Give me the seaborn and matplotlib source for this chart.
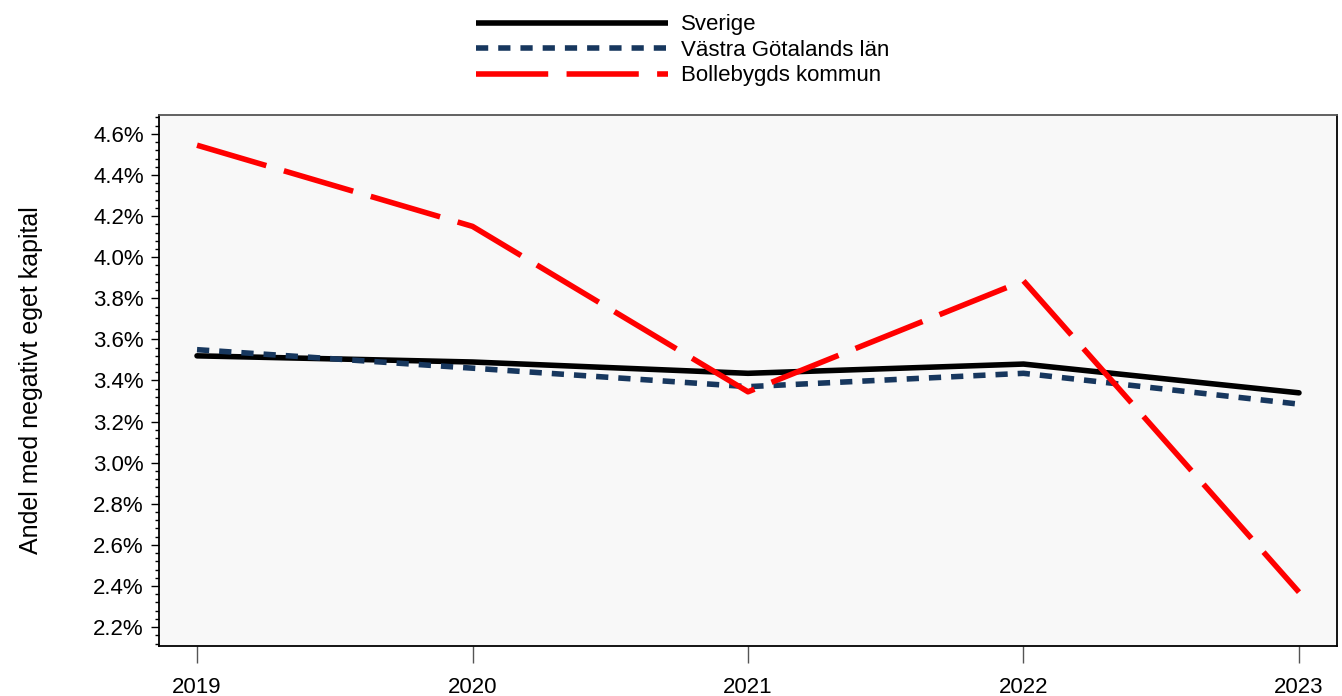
import matplotlib
matplotlib.use("Agg")
import matplotlib.pyplot as plt
import matplotlib.ticker as mticker
import pandas as pd
import seaborn as sns

years = [2019, 2020, 2021, 2022, 2023]
sverige = [3.52, 3.49, 3.435, 3.48, 3.34]
vastra_gotaland = [3.55, 3.46, 3.37, 3.435, 3.285]
bollebygd = [4.545, 4.15, 3.345, 3.885, 2.37]
series_names = ["Sverige", "Västra Götalands län", "Bollebygds kommun"]

df = pd.DataFrame({
    "year": years * 3,
    "value": sverige + vastra_gotaland + bollebygd,
    "series": [s for s in series_names for _ in years],
})

sns.set_style("white")
plt.rcParams["font.family"] = ["Liberation Sans", "DejaVu Sans"]
plt.rcParams["text.color"] = "black"
plt.rcParams["axes.labelcolor"] = "black"
plt.rcParams["xtick.color"] = "black"
plt.rcParams["ytick.color"] = "black"

fig = plt.figure(figsize=(13.42, 6.96), dpi=100)
ax = fig.add_axes([159 / 1342, 1 - 646 / 696, (1337 - 159) / 1342, (646 - 115) / 696])
ax.set_facecolor("#f8f8f8")

palette = {"Sverige": "black", "Västra Götalands län": "#17375e", "Bollebygds kommun": "#ff0000"}
dashes = {"Sverige": "", "Västra Götalands län": (2.2, 1.8), "Bollebygds kommun": (13.0, 3.3)}
lw = 4.0

sns.lineplot(
    data=df, x="year", y="value", hue="series", style="series",
    hue_order=series_names, style_order=series_names,
    palette=palette, dashes=dashes, linewidth=lw, ax=ax, legend=False,
)
for line in ax.get_lines():
    line.set_dash_capstyle("butt")
    line.set_solid_capstyle("round")

handles = []
for n in series_names:
    h = plt.Line2D([], [], color=palette[n], linewidth=lw, solid_capstyle="butt", dash_capstyle="butt")
    if dashes[n]:
        h.set_dashes(dashes[n])
    handles.append(h)
fig.legend(
    handles, series_names, loc="upper center", bbox_to_anchor=(0.5086, 1.008),
    frameon=False, fontsize=16, handlelength=8.65, handletextpad=0.6,
    labelspacing=0.2, ncol=1,
)

ax.set_xlim(2018.862, 2023.138)
ax.set_ylim(2.108, 4.692)
ax.set_xticks(years)
ax.set_xticklabels([str(y) for y in years])
ax.yaxis.set_major_locator(mticker.MultipleLocator(0.2))
ax.yaxis.set_minor_locator(mticker.MultipleLocator(0.04))
ax.yaxis.set_major_formatter(mticker.FuncFormatter(lambda v, p: f"{v:.1f}%"))
ax.tick_params(axis="y", which="major", direction="out", length=6, width=1, labelsize=16, left=True, color="black", pad=5)
ax.tick_params(axis="y", which="minor", direction="out", length=3, width=1, left=True, color="black")
ax.tick_params(axis="x", which="major", direction="out", length=12, width=1, labelsize=16, bottom=True, color="#555555", pad=10)
ax.set_xlabel("")
ax.set_ylabel("Andel med negativt eget kapital", fontsize=18, labelpad=36)

for side in ["left", "bottom", "right"]:
    ax.spines[side].set_color("black")
    ax.spines[side].set_linewidth(1.3)
ax.spines["top"].set_color("#555555")
ax.spines["top"].set_linewidth(1.3)

fig.savefig("out.png", dpi=100)
